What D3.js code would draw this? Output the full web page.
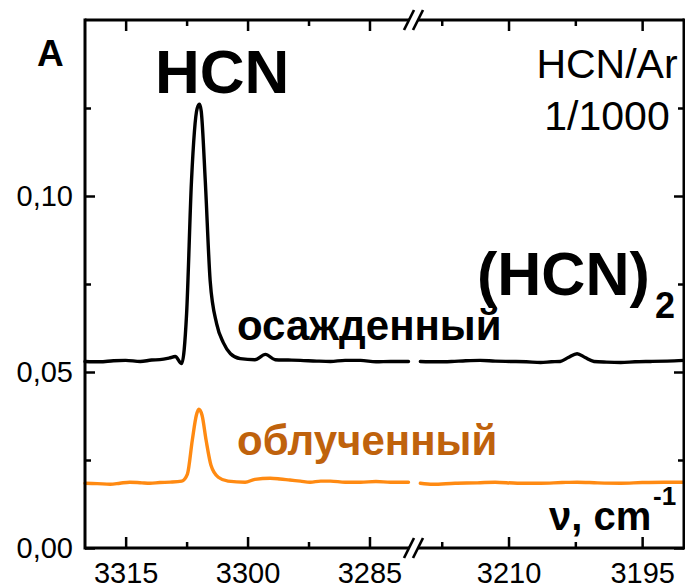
<!DOCTYPE html>
<html>
<head>
<meta charset="utf-8">
<script src="https://cdn.jsdelivr.net/npm/d3@7"></script>
<style>
  html, body { margin: 0; padding: 0; background: #fff; }
  svg { display: block; }
  text { font-family: "Liberation Sans", Arial, sans-serif; }
</style>
</head>
<body>
<svg id="chart" width="685" height="588"></svg>
<script>
// IR absorbance of HCN in Ar matrix, two wavenumber windows (cm-1)
const leftDomain = [3320, 3279.4];
const rightDomain = [3220.5, 3190.3];

const leftMajorTicks = [3315, 3300, 3285];
const leftMinorTicks = [3307.5, 3292.5];
const rightMajorTicks = [3210, 3195];
const rightMinorTicks = [3217.5, 3202.5];
const yMajorTicks = [0, 0.05, 0.10];
const yMinorTicks = [0.025, 0.075, 0.125];

// deposited sample (black)
const depositedLeft = [
  [3320.0, 0.0530], [3318.2, 0.0529], [3316.5, 0.0532], [3315.0, 0.0533],
  [3313.2, 0.0530], [3311.8, 0.0534], [3310.8, 0.0535], [3309.6, 0.0540],
  [3308.9, 0.0544], [3308.1, 0.0524], [3307.5, 0.0666], [3306.9, 0.1042],
  [3306.2, 0.1249], [3305.9, 0.1261], [3305.7, 0.1241], [3305.2, 0.1042],
  [3304.6, 0.0759], [3303.8, 0.0637], [3303.0, 0.0584], [3302.1, 0.0552],
  [3300.9, 0.0538], [3299.1, 0.0535], [3297.8, 0.0550], [3296.6, 0.0535],
  [3295.0, 0.0534], [3293.5, 0.0533], [3291.5, 0.0531], [3289.8, 0.0530],
  [3288.0, 0.0533], [3286.1, 0.0533], [3284.2, 0.0529], [3282.4, 0.0530],
  [3280.2, 0.0530]
];
const depositedRight = [
  [3219.9, 0.0530], [3218.0, 0.0529], [3216.4, 0.0530], [3214.8, 0.0532],
  [3213.2, 0.0533], [3211.5, 0.0531], [3209.8, 0.0530], [3208.0, 0.0529],
  [3206.4, 0.0527], [3205.2, 0.0529], [3204.2, 0.0530], [3203.3, 0.0541],
  [3202.3, 0.0552], [3201.4, 0.0541], [3200.4, 0.0530], [3199.0, 0.0528],
  [3197.4, 0.0527], [3195.8, 0.0529], [3194.0, 0.0530], [3192.2, 0.0531],
  [3190.3, 0.0533]
];

// irradiated sample (orange)
const irradiatedLeft = [
  [3320.0, 0.0184], [3318.5, 0.0183], [3316.9, 0.0181], [3315.7, 0.0184],
  [3314.5, 0.0187], [3313.0, 0.0185], [3312.0, 0.0184], [3310.8, 0.0186],
  [3309.5, 0.0187], [3308.1, 0.0190], [3307.4, 0.0210], [3306.8, 0.0306],
  [3306.3, 0.0377], [3306.0, 0.0394], [3305.6, 0.0377], [3305.1, 0.0306],
  [3304.5, 0.0235], [3303.6, 0.0201], [3302.4, 0.0190], [3300.3, 0.0187],
  [3299.1, 0.0195], [3297.2, 0.0198], [3296.0, 0.0196], [3294.8, 0.0193],
  [3293.5, 0.0190], [3292.3, 0.0187], [3291.0, 0.0190], [3289.8, 0.0190],
  [3288.0, 0.0187], [3286.1, 0.0187], [3284.2, 0.0189], [3282.4, 0.0187],
  [3280.2, 0.0187]
];
const irradiatedRight = [
  [3219.9, 0.0184], [3218.5, 0.0181], [3216.0, 0.0184], [3213.5, 0.0185],
  [3211.5, 0.0187], [3209.0, 0.0184], [3206.4, 0.0184], [3204.0, 0.0186],
  [3202.3, 0.0187], [3200.0, 0.0185], [3197.4, 0.0184], [3195.0, 0.0186],
  [3192.5, 0.0187], [3190.3, 0.0187]
];

const yLabelFmt = v => d3.format(".2f")(v).replace(".", ",");
const xLabelFmt = d3.format("d");

const svg = d3.select("#chart");
const plotLeft = 85, plotRight = 684, plotTop = 20, plotBottom = 548;
const breakX = 414;

const xL = d3.scaleLinear().domain(leftDomain).range([plotLeft, breakX + 1]);
const xR = d3.scaleLinear().domain(rightDomain).range([breakX + 1, plotRight]);
const y = d3.scaleLinear().domain([0, 0.15]).range([plotBottom, plotTop]);

// spectra
function drawLine(data, xs, color) {
  svg.append("path")
    .datum(data)
    .attr("fill", "none")
    .attr("stroke", color)
    .attr("stroke-width", 3.4)
    .attr("stroke-linejoin", "round")
    .attr("stroke-linecap", "round")
    .attr("d", d3.line().x(d => xs(d[0])).y(d => y(d[1])).curve(d3.curveMonotoneX));
}
const orange = "#ff8a12";
drawLine(irradiatedLeft, xL, orange);
drawLine(irradiatedRight, xR, orange);
drawLine(depositedLeft, xL, "#000");
drawLine(depositedRight, xR, "#000");

// axes (ticks point inward)
function styleAxis(g, size) {
  g.select(".domain").remove();
  g.selectAll(".tick line").attr("stroke", "#000").attr("stroke-width", 2.5);
  g.selectAll("text").attr("fill", "#000").style("font-size", size + "px")
    .style("font-family", "'Liberation Sans', Arial, sans-serif");
}
function xAxisPair(scale, majors, minors) {
  svg.append("g").attr("transform", `translate(0,${plotBottom})`)
    .call(d3.axisBottom(scale).tickValues(majors).tickSizeInner(-11).tickSizeOuter(0).tickPadding(14).tickFormat(xLabelFmt))
    .call(g => styleAxis(g, 29));
  svg.append("g").attr("transform", `translate(0,${plotBottom})`)
    .call(d3.axisBottom(scale).tickValues(minors).tickSizeInner(-6).tickSizeOuter(0).tickFormat(""))
    .call(g => styleAxis(g, 29));
  svg.append("g").attr("transform", `translate(0,${plotTop})`)
    .call(d3.axisTop(scale).tickValues(majors).tickSizeInner(-11).tickSizeOuter(0).tickFormat(""))
    .call(g => styleAxis(g, 29));
  svg.append("g").attr("transform", `translate(0,${plotTop})`)
    .call(d3.axisTop(scale).tickValues(minors).tickSizeInner(-6).tickSizeOuter(0).tickFormat(""))
    .call(g => styleAxis(g, 29));
}
xAxisPair(xL, leftMajorTicks, leftMinorTicks);
xAxisPair(xR, rightMajorTicks, rightMinorTicks);

svg.append("g").attr("transform", `translate(${plotLeft},0)`)
  .call(d3.axisLeft(y).tickValues(yMajorTicks).tickSizeInner(-10).tickSizeOuter(0).tickPadding(12).tickFormat(yLabelFmt))
  .call(g => styleAxis(g, 29));
svg.append("g").attr("transform", `translate(${plotLeft},0)`)
  .call(d3.axisLeft(y).tickValues(yMinorTicks).tickSizeInner(-6).tickSizeOuter(0).tickFormat(""))
  .call(g => styleAxis(g, 29));
svg.append("g").attr("transform", `translate(${plotRight},0)`)
  .call(d3.axisRight(y).tickValues(yMajorTicks).tickSizeInner(-10).tickSizeOuter(0).tickFormat(""))
  .call(g => styleAxis(g, 29));
svg.append("g").attr("transform", `translate(${plotRight},0)`)
  .call(d3.axisRight(y).tickValues(yMinorTicks).tickSizeInner(-6).tickSizeOuter(0).tickFormat(""))
  .call(g => styleAxis(g, 29));

// frame with a gap at the axis break
const frame = svg.append("g").attr("stroke", "#000").attr("stroke-width", 3).attr("fill", "none");
frame.append("line").attr("x1", plotLeft).attr("x2", plotLeft).attr("y1", plotTop - 1.5).attr("y2", plotBottom + 1.5);
frame.append("line").attr("x1", plotRight).attr("x2", plotRight).attr("y1", plotTop - 1.5).attr("y2", plotBottom + 1.5);
[plotTop, plotBottom].forEach(yy => {
  frame.append("line").attr("x1", plotLeft).attr("x2", breakX - 5).attr("y1", yy).attr("y2", yy);
  frame.append("line").attr("x1", breakX + 4).attr("x2", plotRight).attr("y1", yy).attr("y2", yy);
  [breakX - 5, breakX + 4].forEach(cx => {
    frame.append("line").attr("stroke-width", 2.6)
      .attr("x1", cx - 5).attr("y1", yy + 10).attr("x2", cx + 5).attr("y2", yy - 10);
  });
});

// annotations
function label(x, yy, str, opts = {}) {
  return svg.append("text").attr("x", x).attr("y", yy)
    .attr("text-anchor", opts.anchor || "start")
    .attr("fill", opts.color || "#000")
    .style("font-size", (opts.size || 40) + "px")
    .style("font-weight", opts.bold ? "bold" : "normal")
    .text(str);
}
label(37, 66, "A", { size: 37, bold: true });
label(155, 93, "HCN", { size: 62, bold: true });
label(607, 78, "HCN/Ar", { size: 41, anchor: "middle" });
label(607, 130, "1/1000", { size: 41, anchor: "middle" });
label(477, 295, "(HCN)", { size: 61, bold: true });
label(655, 318, "2", { size: 36, bold: true });
label(237, 340, "осажденный", { size: 42, bold: true });
label(237, 455, "облученный", { size: 42, bold: true, color: "#bf620c" });
label(549, 530, "ν, cm", { size: 40, bold: true });
label(653, 505, "-1", { size: 26, bold: true });
</script>
</body>
</html>
